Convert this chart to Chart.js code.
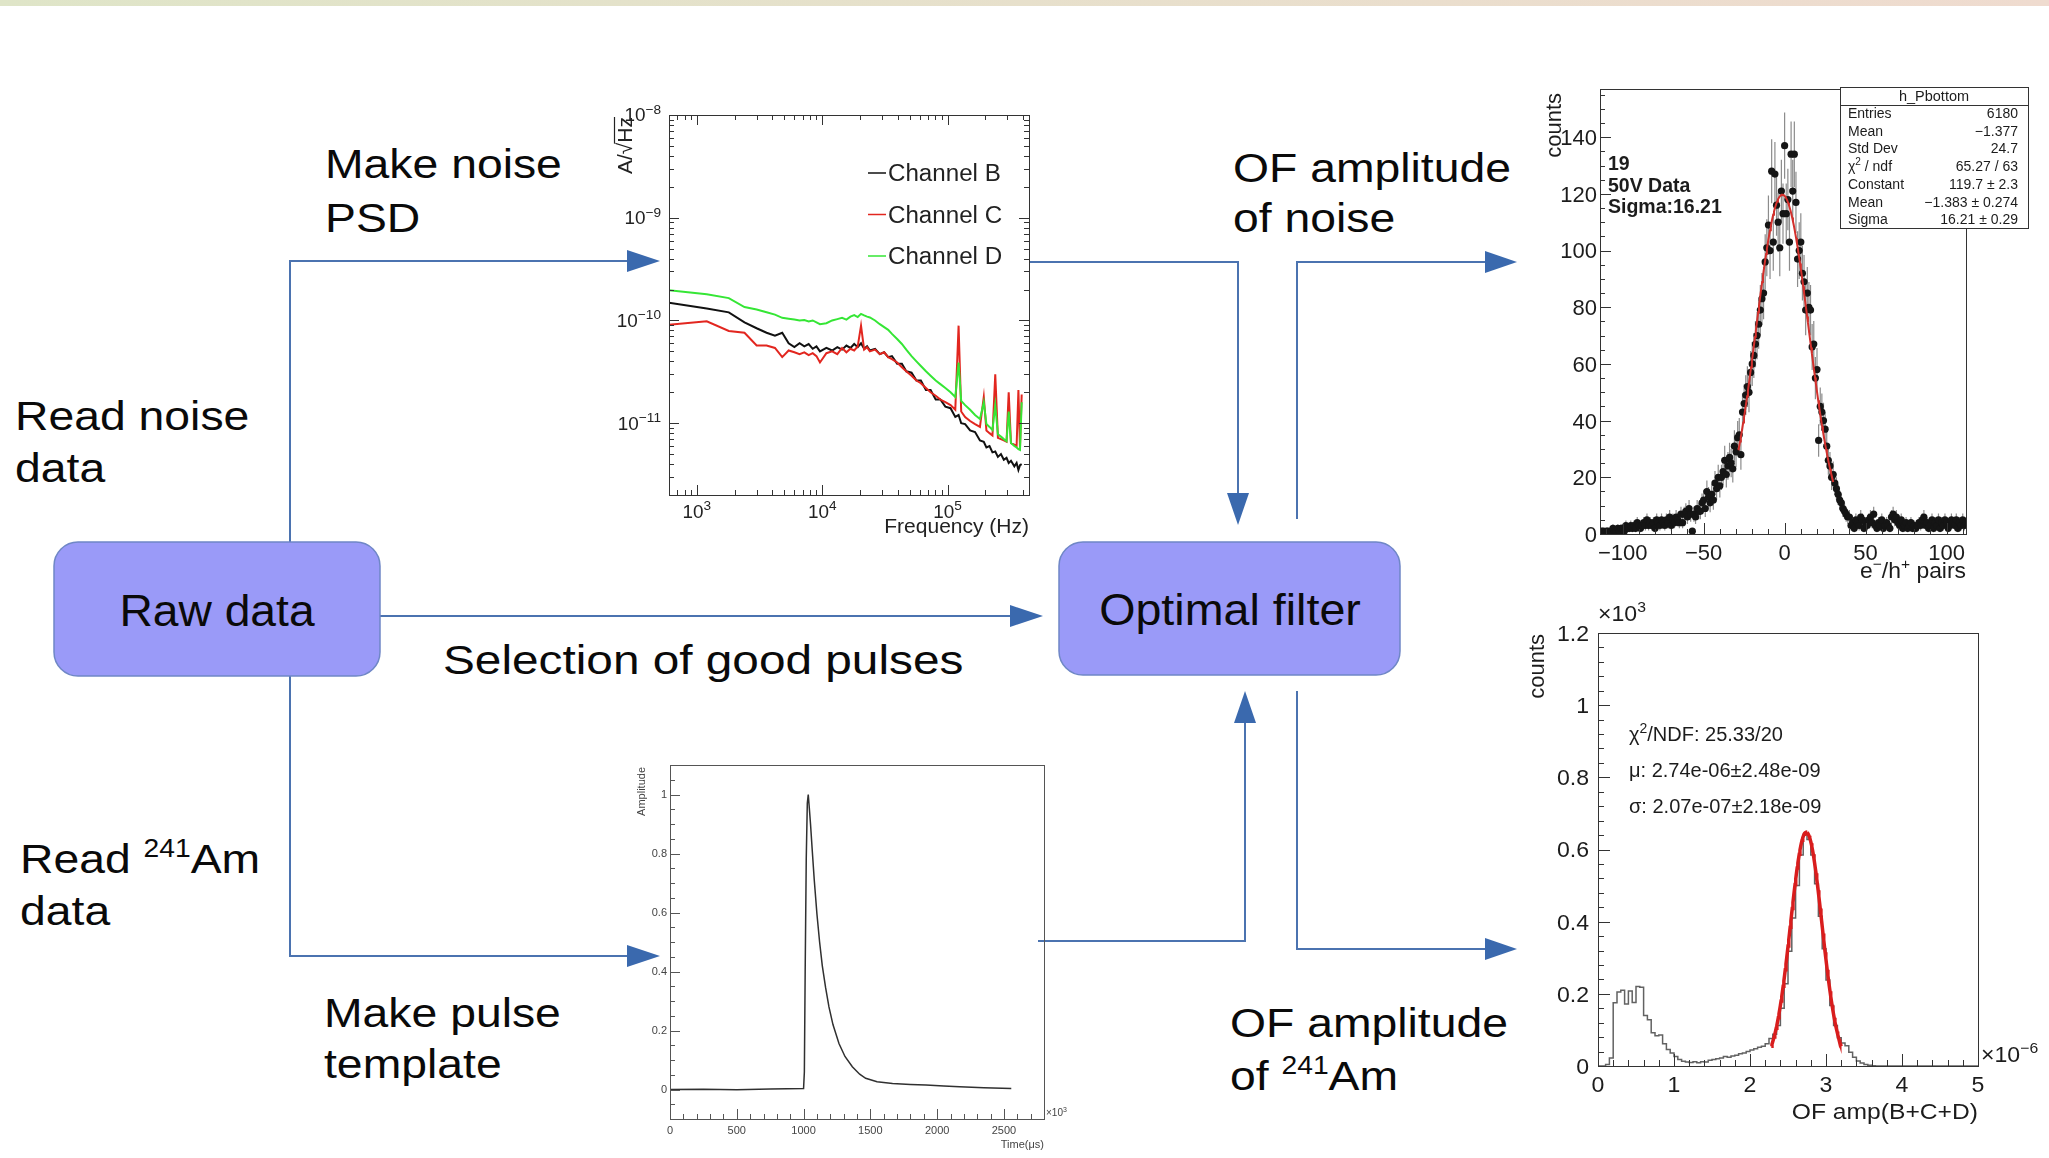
<!DOCTYPE html>
<html lang="en">
<head>
<meta charset="UTF-8">
<title>Optimal filter analysis chain</title>
<script src="https://cdn.jsdelivr.net/npm/chart.js@4.4.1/dist/chart.umd.min.js"></script>
<style>
    html, body { margin: 0; padding: 0; background: #fff; }
    body { width: 2049px; height: 1158px; position: relative; overflow: hidden; }
    canvas { position: absolute; }
    #flow { position: absolute; left: 0; top: 0; }
</style>
</head>
<body>
<svg id="flow" width="2049" height="1158" viewBox="0 0 2049 1158">
    <defs>
        <linearGradient id="topBand" x1="0" y1="0" x2="1" y2="0">
            <stop offset="0" stop-color="#dfe5c8"/>
            <stop offset="1" stop-color="#efdbcf"/>
        </linearGradient>
    </defs>
    <rect x="0" y="0" width="2049" height="6" fill="url(#topBand)"/>

    <!-- connectors -->
    <g fill="none" stroke="#4b73b0" stroke-width="2">
        <polyline points="290,542 290,261 628,261"/>
        <polyline points="290,676 290,956 628,956"/>
        <polyline points="380,616 1011,616"/>
        <polyline points="1030,262 1238,262 1238,494"/>
        <polyline points="1038,941 1245,941 1245,722"/>
        <polyline points="1297,519 1297,262 1486,262"/>
        <polyline points="1297,691 1297,949 1486,949"/>
    </g>
    <g fill="#3a69ae">
        <polygon points="627,250 660,261 627,272"/>
        <polygon points="627,945 660,956 627,967"/>
        <polygon points="1010,605 1043,616 1010,627"/>
        <polygon points="1227,493 1238,525 1249,493"/>
        <polygon points="1234,723 1245,691 1256,723"/>
        <polygon points="1485,251 1517,262 1485,273"/>
        <polygon points="1485,938 1517,949 1485,960"/>
    </g>

    <!-- process boxes -->
    <rect x="54" y="542" width="326" height="134" rx="24" fill="#9a9af8" stroke="#6f87c6" stroke-width="1.5"/>
    <rect x="1059" y="542" width="341" height="133" rx="24" fill="#9a9af8" stroke="#6f87c6" stroke-width="1.5"/>

    <g font-family="'Liberation Sans', Arial, sans-serif" fill="#0a0a0a">
        <text font-size="44" text-anchor="middle" transform="translate(217,626) scale(1.05,1)">Raw data</text>
        <text font-size="44" text-anchor="middle" transform="translate(1230,625) scale(1.06,1)">Optimal filter</text>
        <g font-size="41">
            <text transform="translate(325,178) scale(1.13,1)">Make noise<tspan x="0" y="54">PSD</tspan></text>
            <text transform="translate(15,430) scale(1.13,1)">Read noise<tspan x="0" y="52">data</tspan></text>
            <text transform="translate(1233,182) scale(1.13,1)">OF amplitude<tspan x="0" y="50">of noise</tspan></text>
            <text transform="translate(443,674) scale(1.165,1)">Selection of good pulses</text>
            <text transform="translate(20,873) scale(1.13,1)">Read <tspan dy="-16" font-size="25">241</tspan><tspan dy="16">Am</tspan><tspan x="0" y="52">data</tspan></text>
            <text transform="translate(324,1027) scale(1.13,1)">Make pulse<tspan x="0" y="51">template</tspan></text>
            <text transform="translate(1230,1037) scale(1.13,1)">OF amplitude<tspan x="0" y="53">of <tspan dy="-16" font-size="25">241</tspan><tspan dy="16">Am</tspan></tspan></text>
        </g>
    </g>
</svg>

<canvas id="psdChart" width="445" height="455" style="left:600px; top:95px"></canvas>
<canvas id="noiseChart" width="524" height="510" style="left:1525px; top:80px"></canvas>
<canvas id="pulseChart" width="445" height="403" style="left:625px; top:755px"></canvas>
<canvas id="amChart" width="539" height="540" style="left:1510px; top:600px"></canvas>

<script>
// ---------- noise PSD, amplitudes in units of 1e-11 A/sqrt(Hz) ----------
const psdFreq = [
    600, 1200, 1800, 2400, 3000, 3600, 4200, 4800, 5400, 6000, 6600, 7200, 7800, 8400, 9000, 9600,
    10800, 12000, 13200, 14400, 15600, 16800, 18000, 19200, 20400, 21600, 22800, 24000,
    26400, 28800, 31200, 33600, 36000, 39600, 43200, 46800,
    51600, 56400, 61200, 67200, 73200, 80400, 87600, 96000,
    105600, 115200, 122400, 128400, 138000, 151200, 165600, 181200,
    194400, 204000, 216000, 228000, 240000, 252000, 266400, 280800,
    295200, 307200, 320400, 340800, 355200, 367200, 378000, 390000
];
const psdChanB = [
    14.9, 13.1, 12.0, 9.6, 8.4, 7.6, 7.1, 7.6, 6.0, 5.5, 6.0, 5.6, 5.9, 5.3, 5.6, 5.0,
    5.4, 5.1, 5.5, 5.2, 5.7, 5.4, 5.9, 5.5, 6.0, 5.3, 5.6, 5.1,
    5.3, 4.7, 4.9, 4.4, 4.5, 3.8, 3.8, 3.2,
    3.1, 2.6, 2.6, 2.1, 2.1, 1.7, 1.7, 1.45,
    1.4, 1.15, 1.2, 1.0, 0.98, 0.85, 0.82, 0.68,
    0.66, 0.58, 0.6, 0.52, 0.53, 0.47, 0.5, 0.44,
    0.46, 0.41, 0.43, 0.38, 0.41, 0.35, 0.39, 0.40
];
const psdChanC = [
    9.1, 9.8, 7.9, 7.6, 5.7, 5.7, 5.4, 4.4, 5.1, 4.9, 4.7, 4.9, 4.6, 4.8, 4.5, 3.9,
    4.8, 5.0, 4.7, 5.4, 4.9, 5.3, 5.1, 5.6, 8.9, 5.2, 5.5, 5.0,
    5.2, 4.7, 4.9, 4.4, 4.2, 3.9, 3.5, 3.2,
    2.9, 2.6, 2.45, 2.2, 2.0, 1.85, 1.7, 1.6,
    1.5, 1.35, 8.9, 1.3, 1.15, 1.05, 0.98, 0.92,
    1.8, 0.85, 0.8, 0.76, 3.0, 0.72, 0.7, 0.68,
    0.66, 2.0, 0.64, 0.62, 0.6, 2.1, 0.58, 1.9
];
const psdChanD = [
    19.7, 18.0, 16.5, 13.5, 12.8, 12.0, 11.4, 10.6, 10.4, 10.2, 10.0, 10.1, 9.8, 10.0, 9.6, 9.2,
    9.4, 10.0, 10.3, 10.6, 10.2, 10.9, 11.3, 10.8, 11.6, 11.2, 10.9, 10.7,
    10.0, 9.2, 8.6, 8.1, 7.4, 6.6, 5.9, 5.2,
    4.5, 4.0, 3.6, 3.2, 2.9, 2.6, 2.4, 2.2,
    2.0, 1.8, 3.9, 1.65, 1.5, 1.35, 1.2, 1.1,
    1.6, 0.98, 0.92, 0.86, 1.5, 0.78, 0.74, 0.7,
    0.67, 1.3, 0.64, 0.6, 0.58, 0.56, 0.55, 1.6
];
const psdUnit = 1e-11;
const psdLegend = ['Channel B', 'Channel C', 'Channel D'];
const psdColors = ['#111111', '#e2261f', '#35e635'];
const psdXTickValues = [1e3, 1e4, 1e5];
const psdXTickLabels = ['10^{3}', '10^{4}', '10^{5}'];
const psdYTickValues = [1e-8, 1e-9, 1e-10, 1e-11];
const psdYTickLabels = ['10^{−8}', '10^{−9}', '10^{−10}', '10^{−11}'];

// ---------- OF amplitude of noise (1 e/h pair per bin) ----------
const noiseFirstBin = -113;
const noiseCounts = [
    1, 1, 0, 1, 1, 0, 1, 2, 1, 1,
    2, 1, 2, 2, 1, 3, 2, 2, 3, 2,
    3, 2, 4, 3, 2, 3, 4, 3, 5, 3,
    4, 3, 4, 2, 5, 4, 3, 5, 4, 3,
    5, 4, 6, 3, 5, 4, 6, 5, 4, 7,
    4, 7, 8, 6, 9, 7, 1, 7, 6, 9,
    8, 8, 11, 12, 9, 15, 13, 11, 14, 12,
    18, 16, 20, 17, 20, 22, 26, 21, 24, 27,
    25, 23, 31, 29, 34, 35, 28, 43, 46, 49,
    52, 50, 57, 60, 63, 67, 70, 74, 79, 83,
    85, 96, 101, 109, 100, 128, 103, 127, 116, 110,
    101, 121, 113, 137, 113, 118, 103, 134, 121, 134,
    117, 97, 100, 103, 92, 89, 79, 85, 80, 79,
    66, 67, 55, 58, 33, 45, 43, 40, 37, 31,
    26, 24, 20, 21, 18, 16, 14, 12, 11, 9,
    8, 7, 6, 6, 3, 4, 2, 5, 4, 3,
    6, 5, 2, 4, 3, 5, 6, 4, 7, 3,
    2, 4, 3, 5, 2, 3, 4, 3, 2, 6,
    7, 5, 6, 4, 3, 5, 2, 3, 4, 2,
    3, 4, 2, 3, 2, 3, 4, 3, 5, 6,
    3, 4, 2, 3, 5, 2, 4, 3, 5, 2,
    4, 3, 5, 4, 2, 3, 5, 4, 3, 5,
    2, 4, 3, 5, 3, 4
];
const noiseFit = { constant: 119.7, mean: -1.383, sigma: 16.21, from: -28.5, to: 30 };
const noiseNotes = ['19', '50V Data', 'Sigma:16.21'];
const noiseStatsTitle = 'h_Pbottom';
const noiseStatsNames = ['Entries', 'Mean', 'Std Dev', 'χ^{2} / ndf', 'Constant', 'Mean', 'Sigma'];
const noiseStatsValues = ['6180', '−1.377', '24.7', '65.27 / 63', '119.7 ± 2.3', '−1.383 ± 0.274', '16.21 ± 0.29'];
const noiseXTickValues = [-100, -50, 0, 50, 100];
const noiseXTickLabels = ['−100', '−50', '0', '50', '100'];
const noiseYTickValues = [0, 20, 40, 60, 80, 100, 120, 140];
const noiseYTickLabels = ['0', '20', '40', '60', '80', '100', '120', '140'];

// ---------- pulse template ----------
const pulseTime = [
    0, 250, 500, 750, 1000, 1006, 1012, 1020, 1028, 1035,
    1042, 1052, 1065, 1080, 1100, 1120, 1140, 1165, 1190, 1220,
    1265, 1310, 1365, 1420, 1465, 1550, 1666, 1800, 1916, 2050,
    2167, 2350, 2555
];
const pulseAmp = [
    0, 0.001, -0.001, 0.002, 0.003, 0.06, 0.4, 0.78, 0.97, 1.0,
    0.96, 0.9, 0.81, 0.71, 0.595, 0.5, 0.42, 0.345, 0.28, 0.22,
    0.156, 0.112, 0.077, 0.052, 0.038, 0.026, 0.02, 0.017, 0.015, 0.012,
    0.009, 0.006, 0.003
];
const pulseXTickValues = [0, 500, 1000, 1500, 2000, 2500];
const pulseXTickLabels = ['0', '500', '1000', '1500', '2000', '2500'];
const pulseYTickValues = [0, 0.2, 0.4, 0.6, 0.8, 1];
const pulseYTickLabels = ['0', '0.2', '0.4', '0.6', '0.8', '1'];

// ---------- OF amplitude of 241Am, x in units of 1e-6 ----------
const amBinWidth = 0.05;
const amCounts = [
    0, 0, 4, 22, 175, 205, 210, 172, 208, 176,
    220, 218, 140, 128, 92, 84, 86, 62, 46, 36,
    26, 18, 13, 11, 10, 12, 9, 12, 11, 16,
    18, 20, 22, 26, 24, 28, 30, 34, 36, 40,
    44, 48, 52, 55, 62, 76, 88, 112, 160, 228,
    318, 410, 500, 585, 642, 628, 585, 505, 415, 325,
    238, 168, 112, 78, 64, 56, 38, 24, 14, 8,
    4, 2, 1, 0, 0, 0, 0, 0, 0, 0,
    0, 0, 0, 0, 0, 0, 0, 0, 0, 0,
    0, 0, 0, 0, 0, 0, 0, 0, 0, 0
];
const amFit = { amplitude: 648, mean: 2.74, sigma: 0.207, from: 2.28, to: 3.2 };
const amFitText = ['χ^{2}/NDF: 25.33/20', 'μ: 2.74e-06±2.48e-09', 'σ: 2.07e-07±2.18e-09'];
const amXTickValues = [0, 1, 2, 3, 4, 5];
const amXTickLabels = ['0', '1', '2', '3', '4', '5'];
const amYTickValues = [0, 200, 400, 600, 800, 1000, 1200];
const amYTickLabels = ['0', '0.2', '0.4', '0.6', '0.8', '1', '1.2'];

// ---------- helpers ----------
const FONT = '"Liberation Sans", Arial, Helvetica, sans-serif';

// "10^{-8}" -> [{t:'10'}, {t:'-8', sup:true}]
function splitSup(str) {
    const parts = [];
    const re = /\^\{([^}]*)\}/g;
    let last = 0, m;
    while ((m = re.exec(str)) !== null) {
        if (m.index > last) parts.push({ t: str.slice(last, m.index), sup: false });
        parts.push({ t: m[1], sup: true });
        last = re.lastIndex;
    }
    if (last < str.length) parts.push({ t: str.slice(last), sup: false });
    return parts;
}

// text with superscripts; sx widens the glyphs a little
function richText(ctx, str, x, y, size, align = 'left', weight = 'normal', sx = 1) {
    const parts = splitSup(str);
    const fontFor = p => `${weight} ${p.sup ? Math.round(size * 0.7) : size}px ${FONT}`;
    let width = 0;
    parts.forEach(p => { ctx.font = fontFor(p); p.w = ctx.measureText(p.t).width; width += p.w; });
    width *= sx;
    const x0 = align === 'right' ? x - width : align === 'center' ? x - width / 2 : x;
    ctx.save();
    ctx.translate(x0, y);
    ctx.scale(sx, 1);
    ctx.textAlign = 'left';
    ctx.textBaseline = 'alphabetic';
    let cx = 0;
    parts.forEach(p => {
        ctx.font = fontFor(p);
        ctx.fillText(p.t, cx, p.sup ? -size * 0.42 : 0);
        cx += p.w;
    });
    ctx.restore();
    return width;
}

// vertical title, string ends at (x, y) like ROOT's right-aligned axis titles
function upText(ctx, str, x, y, size, sx = 1) {
    ctx.save();
    ctx.translate(x, y);
    ctx.rotate(-Math.PI / 2);
    richText(ctx, str, 0, 0, size, 'right', 'normal', sx);
    ctx.restore();
}

function linTicks(min, max, step) {
    const out = [];
    for (let k = Math.ceil(min / step - 1e-9); k * step <= max + 1e-9; k++) out.push(+(k * step).toFixed(6));
    return out;
}

function logTicks(min, max) {
    const out = [];
    for (let e = Math.floor(Math.log10(min)); e <= Math.ceil(Math.log10(max)); e++) {
        for (let k = 1; k <= 9; k++) {
            const v = k * Math.pow(10, e);
            if (v >= min * 0.999 && v <= max * 1.001) out.push(v);
        }
    }
    return out;
}

function gaussPoints(amp, mean, sigma, from, to, n) {
    const pts = [];
    for (let k = 0; k <= n; k++) {
        const x = from + (to - from) * k / n;
        pts.push({ x, y: amp * Math.exp(-0.5 * Math.pow((x - mean) / sigma, 2)) });
    }
    return pts;
}

const toPoints = (xs, ys, k = 1) => xs.map((v, i) => ({ x: v, y: ys[i] * k }));

// ROOT-like frame: box, inward ticks, tick labels, extra text
function rootFrame(cfg) {
    return {
        id: 'rootFrame',
        afterDraw(chart) {
            const { ctx, chartArea: a, scales: { x, y } } = chart;
            const sx = cfg.labelStretch || 1;
            ctx.save();
            ctx.strokeStyle = cfg.lineColor;
            ctx.lineWidth = 1;
            ctx.strokeRect(Math.round(a.left) + 0.5, Math.round(a.top) + 0.5,
                Math.round(a.right - a.left), Math.round(a.bottom - a.top));

            ctx.beginPath();
            const xTicks = (vals, len) => vals.forEach(v => {
                const px = Math.round(x.getPixelForValue(v)) + 0.5;
                if (px < a.left - 1 || px > a.right + 1) return;
                ctx.moveTo(px, a.bottom); ctx.lineTo(px, a.bottom - len);
                if (cfg.mirror) { ctx.moveTo(px, a.top); ctx.lineTo(px, a.top + len); }
            });
            const yTicks = (vals, len) => vals.forEach(v => {
                const py = Math.round(y.getPixelForValue(v)) + 0.5;
                if (py < a.top - 1 || py > a.bottom + 1) return;
                ctx.moveTo(a.left, py); ctx.lineTo(a.left + len, py);
                if (cfg.mirror) { ctx.moveTo(a.right, py); ctx.lineTo(a.right - len, py); }
            });
            xTicks(cfg.xMajor, cfg.majorLen);
            xTicks(cfg.xMinor, cfg.minorLen);
            yTicks(cfg.yMajor, cfg.majorLen);
            yTicks(cfg.yMinor, cfg.minorLen);
            ctx.stroke();

            ctx.fillStyle = cfg.textColor;
            cfg.xTickValues.forEach((v, i) =>
                richText(ctx, cfg.xTickLabels[i], x.getPixelForValue(v), a.bottom + cfg.xLabelDrop, cfg.labelSize, 'center', 'normal', sx));
            cfg.yTickValues.forEach((v, i) =>
                richText(ctx, cfg.yTickLabels[i], a.left - cfg.yLabelGap, y.getPixelForValue(v) + cfg.labelSize * 0.36, cfg.labelSize, 'right', 'normal', sx));
            if (cfg.decorate) cfg.decorate(ctx, a);
            ctx.restore();
        }
    };
}

const baseOptions = (padding, xScale, yScale) => ({
    responsive: false,
    animation: false,
    events: [],
    layout: { padding },
    scales: { x: Object.assign({ display: false }, xScale), y: Object.assign({ display: false }, yScale) },
    plugins: { legend: { display: false }, tooltip: { enabled: false } }
});

// ---------- noise PSD ----------
new Chart(document.getElementById('psdChart'), {
    type: 'line',
    data: {
        datasets: [psdChanB, psdChanC, psdChanD].map((vals, i) => ({
            data: toPoints(psdFreq, vals, psdUnit),
            borderColor: psdColors[i],
            borderWidth: 2,
            pointRadius: 0,
            tension: 0,
            order: 3 - i
        }))
    },
    options: baseOptions({ left: 69, top: 20, right: 16, bottom: 55 },
        { type: 'logarithmic', min: 600, max: 4.46e5 },
        { type: 'logarithmic', min: 2e-12, max: 1e-8 }),
    plugins: [rootFrame({
        lineColor: '#333', textColor: '#222', mirror: true,
        majorLen: 10, minorLen: 5,
        xMajor: psdXTickValues, xMinor: logTicks(600, 4.46e5),
        yMajor: psdYTickValues, yMinor: logTicks(2e-12, 1e-8),
        xTickValues: psdXTickValues, xTickLabels: psdXTickLabels,
        yTickValues: psdYTickValues, yTickLabels: psdYTickLabels,
        labelSize: 18, labelStretch: 1.05, xLabelDrop: 23, yLabelGap: 8,
        decorate(ctx, a) {
            richText(ctx, 'Frequency (Hz)', a.right, a.bottom + 38, 21, 'right');
            // A/sqrt(Hz) with the root bar over Hz
            ctx.save();
            ctx.translate(a.left - 37, a.top + 2);
            ctx.rotate(-Math.PI / 2);
            ctx.font = `21px ${FONT}`;
            const full = ctx.measureText('A/√Hz').width;
            const head = ctx.measureText('A/√').width;
            richText(ctx, 'A/√Hz', 0, 0, 21, 'right');
            ctx.strokeStyle = '#222';
            ctx.lineWidth = 1.2;
            ctx.beginPath();
            ctx.moveTo(-full + head - 1, -17.5);
            ctx.lineTo(0, -17.5);
            ctx.stroke();
            ctx.restore();
            // legend
            psdLegend.forEach((name, i) => {
                const yb = a.top + 66 + i * 41.5;
                ctx.strokeStyle = psdColors[i];
                ctx.lineWidth = 1.5;
                ctx.beginPath();
                ctx.moveTo(a.left + 199, yb - 8);
                ctx.lineTo(a.left + 217, yb - 8);
                ctx.stroke();
                ctx.fillStyle = '#222';
                richText(ctx, name, a.left + 219, yb, 23, 'left', 'normal', 1.05);
            });
        }
    })]
});

// ---------- OF amplitude of noise ----------
const noisePoints = noiseCounts.map((c, i) => ({ x: noiseFirstBin + i, y: c }));

const noiseErrors = {
    id: 'noiseErrors',
    beforeDatasetsDraw(chart) {
        const { ctx, chartArea: a, scales: { x, y } } = chart;
        ctx.save();
        ctx.beginPath();
        ctx.rect(a.left, a.top, a.right - a.left, a.bottom - a.top);
        ctx.clip();
        ctx.strokeStyle = '#8c8c8c';
        ctx.lineWidth = 1.2;
        ctx.beginPath();
        noisePoints.forEach(p => {
            if (p.y <= 0) return;
            const err = Math.sqrt(p.y);
            const px = x.getPixelForValue(p.x);
            ctx.moveTo(px, y.getPixelForValue(p.y - err));
            ctx.lineTo(px, y.getPixelForValue(p.y + err));
        });
        ctx.stroke();
        ctx.restore();
    }
};

new Chart(document.getElementById('noiseChart'), {
    type: 'scatter',
    data: {
        datasets: [
            {
                data: gaussPoints(noiseFit.constant, noiseFit.mean, noiseFit.sigma, noiseFit.from, noiseFit.to, 120),
                showLine: true, borderColor: '#d3302c', borderWidth: 2, pointRadius: 0, order: 0
            },
            {
                data: noisePoints,
                pointRadius: 3.6, pointBackgroundColor: '#151515', pointBorderWidth: 0, order: 1
            }
        ]
    },
    options: baseOptions({ left: 75, top: 9, right: 83, bottom: 56 },
        { type: 'linear', min: -114, max: 112 },
        { type: 'linear', min: 0, max: 157 }),
    plugins: [noiseErrors, rootFrame({
        lineColor: '#333', textColor: '#1c1c1c', mirror: false,
        majorLen: 11, minorLen: 5,
        xMajor: noiseXTickValues, xMinor: linTicks(-110, 110, 10),
        yMajor: noiseYTickValues, yMinor: linTicks(0, 155, 5),
        xTickValues: noiseXTickValues, xTickLabels: noiseXTickLabels,
        yTickValues: noiseYTickValues, yTickLabels: noiseYTickLabels,
        labelSize: 22, xLabelDrop: 26, yLabelGap: 3,
        decorate(ctx, a) {
            richText(ctx, 'e^{−}/h^{+} pairs', a.right, a.bottom + 44, 22, 'right', 'normal', 1.04);
            upText(ctx, 'counts', a.left - 39, a.top + 4, 22);
            noiseNotes.forEach((t, i) => richText(ctx, t, a.left + 8, a.top + 81 + i * 21.5, 19.5, 'left', 'bold'));
            // statistics box
            const bx = Math.round(a.left) + 240, by = Math.round(a.top) - 2, bw = 188, bh = 141;
            ctx.fillStyle = '#fff';
            ctx.fillRect(bx, by, bw, bh);
            ctx.strokeStyle = '#333';
            ctx.strokeRect(bx + 0.5, by + 0.5, bw, bh);
            ctx.beginPath();
            ctx.moveTo(bx, by + 18.5);
            ctx.lineTo(bx + bw, by + 18.5);
            ctx.stroke();
            ctx.fillStyle = '#1c1c1c';
            richText(ctx, noiseStatsTitle, bx + bw / 2, by + 14, 14.5, 'center');
            noiseStatsNames.forEach((name, i) => {
                const yb = by + 31 + i * 17.7;
                richText(ctx, name, bx + 8, yb, 14, 'left');
                richText(ctx, noiseStatsValues[i], bx + bw - 10, yb, 14, 'right');
            });
        }
    })]
});

// ---------- pulse template ----------
new Chart(document.getElementById('pulseChart'), {
    type: 'line',
    data: {
        datasets: [{
            data: toPoints(pulseTime, pulseAmp),
            borderColor: '#303030', borderWidth: 1.5, pointRadius: 0, tension: 0
        }]
    },
    options: baseOptions({ left: 45, top: 10, right: 26, bottom: 39 },
        { type: 'linear', min: 0, max: 2800 },
        { type: 'linear', min: -0.1, max: 1.1 }),
    plugins: [rootFrame({
        lineColor: '#555', textColor: '#444', mirror: false,
        majorLen: 10, minorLen: 5,
        xMajor: pulseXTickValues, xMinor: linTicks(0, 2800, 100),
        yMajor: pulseYTickValues, yMinor: linTicks(-0.05, 1.05, 0.05),
        xTickValues: pulseXTickValues, xTickLabels: pulseXTickLabels,
        yTickValues: pulseYTickValues, yTickLabels: pulseYTickLabels,
        labelSize: 11, xLabelDrop: 15, yLabelGap: 3,
        decorate(ctx, a) {
            richText(ctx, '×10^{3}', a.right + 2, a.bottom - 3, 10, 'left');
            richText(ctx, 'Time(μs)', a.right, a.bottom + 29, 11, 'right');
            upText(ctx, 'Amplitude', a.left - 25, a.top + 2, 11);
        }
    })]
});

// ---------- OF amplitude of 241Am ----------
const amSteps = amCounts.map((c, i) => ({ x: +(i * amBinWidth).toFixed(3), y: c }));
amSteps.push({ x: +(amCounts.length * amBinWidth).toFixed(3), y: 0 });

new Chart(document.getElementById('amChart'), {
    type: 'line',
    data: {
        datasets: [
            {
                data: gaussPoints(amFit.amplitude, amFit.mean, amFit.sigma, amFit.from, amFit.to, 100),
                borderColor: '#d91d1d', borderWidth: 3.5, pointRadius: 0, tension: 0, order: 0
            },
            {
                data: amSteps, stepped: true,
                borderColor: '#626262', borderWidth: 1.5, pointRadius: 0, order: 1
            }
        ]
    },
    options: baseOptions({ left: 88, top: 33, right: 71, bottom: 74 },
        { type: 'linear', min: 0, max: 5 },
        { type: 'linear', min: 0, max: 1200 }),
    plugins: [rootFrame({
        lineColor: '#333', textColor: '#1c1c1c', mirror: false,
        majorLen: 12, minorLen: 6,
        xMajor: amXTickValues, xMinor: linTicks(0, 5, 0.2),
        yMajor: amYTickValues, yMinor: linTicks(0, 1200, 40),
        xTickValues: amXTickValues, xTickLabels: amXTickLabels,
        yTickValues: amYTickValues, yTickLabels: amYTickLabels,
        labelSize: 22, labelStretch: 1.05, xLabelDrop: 26, yLabelGap: 9,
        decorate(ctx, a) {
            richText(ctx, '×10^{3}', a.left, a.top - 12, 22, 'left', 'normal', 1.05);
            richText(ctx, '×10^{−6}', a.right + 3, a.bottom - 4, 22, 'left', 'normal', 1.05);
            richText(ctx, 'OF amp(B+C+D)', a.right, a.bottom + 53, 22, 'right', 'normal', 1.12);
            upText(ctx, 'counts', a.left - 54, a.top + 1, 22);
            amFitText.forEach((t, i) => richText(ctx, t, a.left + 31, a.top + 108 + i * 36, 20, 'left'));
        }
    })]
});
</script>
</body>
</html>
